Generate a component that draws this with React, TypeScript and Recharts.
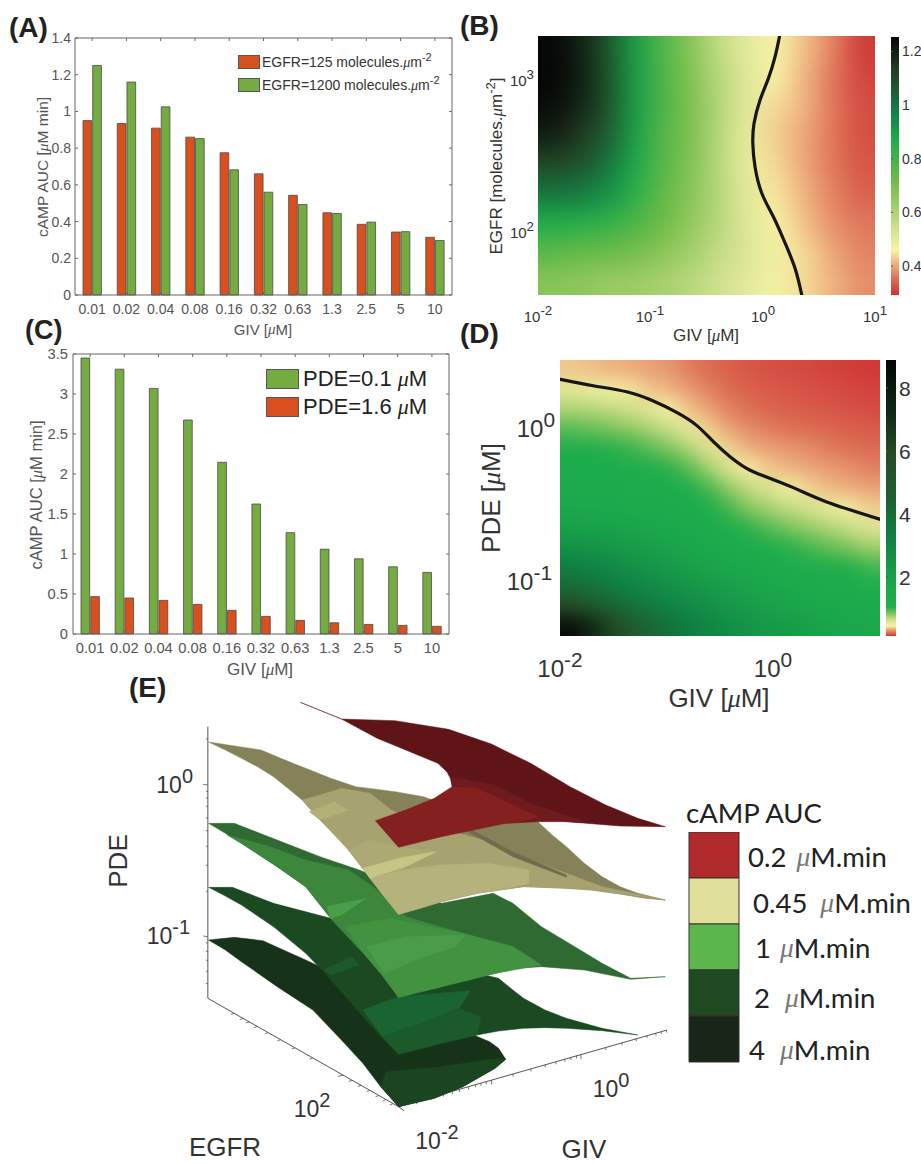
import React from 'react';
import { BarChart, Bar, XAxis, YAxis, ReferenceLine, Legend, ScatterChart, Scatter } from 'recharts';

const SANS = '"Liberation Sans", Arial, sans-serif';
const SERIF = '"Liberation Serif", serif';
const HUMANIST = 'Lato, "Open Sans", sans-serif';

// ---------- panel A ----------
const givLabels = ['0.01', '0.02', '0.04', '0.08', '0.16', '0.32', '0.63', '1.3', '2.5', '5', '10'];
const egfr125 = [0.95, 0.934, 0.909, 0.86, 0.775, 0.66, 0.543, 0.448, 0.385, 0.343, 0.314];
const egfr1200 = [1.25, 1.16, 1.025, 0.852, 0.682, 0.56, 0.493, 0.444, 0.397, 0.345, 0.297];
const aTicks = [0, 0.2, 0.4, 0.6, 0.8, 1, 1.2, 1.4];
const dataA = givLabels.map((giv, i) => ({ giv, low: egfr125[i], high: egfr1200[i] }));

// ---------- panel C ----------
const pde01 = [3.45, 3.31, 3.07, 2.675, 2.146, 1.625, 1.267, 1.06, 0.94, 0.84, 0.77];
const pde16 = [0.467, 0.45, 0.42, 0.37, 0.296, 0.22, 0.17, 0.14, 0.12, 0.108, 0.096];
const cTicks = [0, 0.5, 1, 1.5, 2, 2.5, 3, 3.5];
const dataC = givLabels.map((giv, i) => ({ giv, p01: pde01[i], p16: pde16[i] }));

// ---------- panel B ----------
const bGiv = [0.0133, 0.0237, 0.0422, 0.075, 0.133, 0.237, 0.422, 0.75, 1.33, 2.37, 4.22, 7.5];
const bEgfr = [1500, 970, 627, 405, 262, 172, 111, 72, 46];
const bGrid = [
  [1.26, 1.2, 1.07, 0.9, 0.77, 0.67, 0.56, 0.5, 0.46, 0.42, 0.37, 0.3],
  [1.26, 1.21, 1.08, 0.9, 0.78, 0.68, 0.58, 0.51, 0.46, 0.41, 0.36, 0.31],
  [1.24, 1.19, 1.08, 0.9, 0.78, 0.69, 0.59, 0.5, 0.44, 0.41, 0.36, 0.32],
  [1.2, 1.14, 1.05, 0.89, 0.76, 0.69, 0.58, 0.49, 0.43, 0.4, 0.36, 0.32],
  [1.1, 1.08, 1.0, 0.87, 0.76, 0.68, 0.58, 0.49, 0.44, 0.4, 0.36, 0.33],
  [1.0, 0.99, 0.93, 0.84, 0.74, 0.67, 0.58, 0.5, 0.45, 0.41, 0.37, 0.34],
  [0.86, 0.85, 0.83, 0.78, 0.72, 0.65, 0.58, 0.51, 0.46, 0.42, 0.38, 0.36],
  [0.76, 0.74, 0.73, 0.71, 0.67, 0.62, 0.56, 0.52, 0.47, 0.44, 0.4, 0.37],
  [0.67, 0.66, 0.64, 0.63, 0.61, 0.58, 0.54, 0.5, 0.47, 0.44, 0.41, 0.38],
];
const bContour = [
  { giv: 1.41, egfr: 1832 }, { giv: 1.29, egfr: 1358 }, { giv: 1.125, egfr: 980 }, { giv: 0.948, egfr: 708 },
  { giv: 0.838, egfr: 498 }, { giv: 0.817, egfr: 369 }, { giv: 0.855, egfr: 259 }, { giv: 0.982, egfr: 174 },
  { giv: 1.245, egfr: 122 }, { giv: 1.585, egfr: 82 }, { giv: 1.945, egfr: 56 }, { giv: 2.23, egfr: 37.6 },
];
const bStops: [number, string][] = [
  [0.29, '#cc3333'], [0.34, '#d9604c'], [0.4, '#eda678'], [0.46, '#f8f4a6'], [0.52, '#dbe596'], [0.62, '#a3cf6a'],
  [0.72, '#6fbb45'], [0.86, '#1fae4b'], [0.97, '#128247'], [1.06, '#1d5a30'], [1.13, '#253f22'], [1.2, '#111f12'], [1.255, '#060606'],
];

// ---------- panel D ----------
const dGiv = [0.0124, 0.0191, 0.0294, 0.0453, 0.0698, 0.107, 0.166, 0.255, 0.393, 0.604, 0.931, 1.43, 2.21, 3.4, 5.24, 8.07];
const dPde = [2.2, 1.64, 1.22, 0.914, 0.682, 0.51, 0.379, 0.283, 0.211, 0.158, 0.118, 0.088, 0.0653, 0.0489];
const dGrid = [
  [0.38, 0.37, 0.35, 0.34, 0.32, 0.3, 0.25, 0.22, 0.2, 0.18, 0.17, 0.16, 0.15, 0.14, 0.13, 0.12],
  [0.55, 0.51, 0.47, 0.43, 0.38, 0.35, 0.31, 0.26, 0.22, 0.2, 0.19, 0.18, 0.17, 0.16, 0.15, 0.14],
  [0.73, 0.71, 0.68, 0.63, 0.55, 0.45, 0.37, 0.32, 0.26, 0.23, 0.21, 0.2, 0.19, 0.18, 0.17, 0.16],
  [0.93, 0.9, 0.86, 0.81, 0.74, 0.65, 0.52, 0.39, 0.32, 0.28, 0.25, 0.23, 0.22, 0.21, 0.2, 0.19],
  [1.12, 1.08, 1.04, 1.0, 0.93, 0.84, 0.72, 0.56, 0.4, 0.34, 0.32, 0.3, 0.28, 0.25, 0.23, 0.22],
  [1.3, 1.28, 1.25, 1.2, 1.12, 1.03, 0.92, 0.75, 0.57, 0.44, 0.38, 0.35, 0.33, 0.31, 0.29, 0.26],
  [1.45, 1.42, 1.4, 1.36, 1.3, 1.22, 1.12, 0.96, 0.8, 0.66, 0.58, 0.47, 0.4, 0.36, 0.34, 0.32],
  [1.6, 1.58, 1.55, 1.5, 1.45, 1.38, 1.3, 1.14, 0.97, 0.82, 0.74, 0.67, 0.6, 0.52, 0.44, 0.39],
  [2.0, 1.95, 1.9, 1.8, 1.7, 1.6, 1.5, 1.35, 1.15, 1.02, 0.93, 0.85, 0.78, 0.72, 0.65, 0.57],
  [2.6, 2.5, 2.35, 2.2, 2.05, 1.9, 1.75, 1.6, 1.4, 1.25, 1.12, 1.03, 0.97, 0.9, 0.84, 0.76],
  [3.3, 3.1, 2.9, 2.65, 2.45, 2.25, 2.05, 1.85, 1.7, 1.55, 1.4, 1.3, 1.2, 1.12, 1.05, 0.98],
  [4.2, 3.9, 3.5, 3.15, 2.9, 2.65, 2.45, 2.2, 2.0, 1.85, 1.7, 1.55, 1.45, 1.35, 1.25, 1.18],
  [6.0, 5.2, 4.5, 3.9, 3.5, 3.2, 2.85, 2.6, 2.35, 2.15, 2.0, 1.85, 1.7, 1.6, 1.5, 1.42],
  [8.5, 7.5, 6.3, 5.2, 4.4, 3.9, 3.4, 3.05, 2.75, 2.5, 2.3, 2.15, 2.0, 1.85, 1.75, 1.65],
];
const dContour = [
  { giv: 0.0101, pde: 1.914 }, { giv: 0.0205, pde: 1.74 }, { giv: 0.0422, pde: 1.59 }, { giv: 0.075, pde: 1.387 },
  { giv: 0.124, pde: 1.172 }, { giv: 0.191, pde: 0.966 }, { giv: 0.274, pde: 0.758 }, { giv: 0.393, pde: 0.607 },
  { giv: 0.562, pde: 0.51 }, { giv: 0.805, pde: 0.457 }, { giv: 1.54, pde: 0.383 }, { giv: 3.16, pde: 0.31 }, { giv: 9.9, pde: 0.24 },
];
const dStops: [number, string][] = [
  [0.11, '#cf3434'], [0.2, '#d9604c'], [0.33, '#eaa678'], [0.45, '#f8f4a6'], [0.62, '#d3e28e'], [0.8, '#96c95f'],
  [1.05, '#1fae4b'], [1.7, '#1aa84b'], [3.3, '#0f7f44'], [4.7, '#1e5c2e'], [5.9, '#274d26'], [7.2, '#0f2a14'], [8.9, '#050505'],
];

// ---------- panel E: projected facets, in panel units ----------
type P = [number, number];
type Facet = { fill: string; pts: P[] };
const surface4: Facet[] = [
  { fill: '#16331a', pts: [[248,810],[320,802],[400,812],[520,870],[700,960],[990,1095],[1035,1115],[1060,1135],[1080,1168],[1050,1195],[960,1250],[880,1285],[780,1310],[730,1250],[680,1180],[620,1110],[540,1020],[440,950],[340,875],[295,840]] },
  { fill: '#1b4520', pts: [[745,1205],[900,1190],[1060,1165],[1080,1168],[1050,1195],[960,1250],[880,1285],[780,1310],[730,1250]] },
];
const surface2: Facet[] = [
  { fill: '#1b4a22', pts: [[248,652],[315,652],[430,700],[590,745],[800,860],[1060,925],[1100,960],[1130,985],[1190,1020],[1250,1045],[1350,1075],[1450,1095],[1350,1082],[1250,1075],[1190,1073],[1130,1075],[1060,1083],[1000,1095],[900,1120],[780,1153],[730,1100],[680,1040],[620,965],[570,905],[520,850],[430,770],[340,705],[295,678]] },
  { fill: '#1a6434', pts: [[680,1020],[780,980],[980,962],[950,1015],[870,1050],[735,1100]] },
  { fill: '#1b5a2a', pts: [[735,1100],[870,1050],[950,1015],[1010,1040],[1000,1095],[900,1120],[780,1153]] },
  { fill: '#1d5a2b', pts: [[570,900],[650,860],[670,885],[640,895],[590,915]] },
];
const surface1: Facet[] = [
  { fill: '#2f6a33', pts: [[248,460],[320,460],[440,510],[560,560],[670,600],[900,700],[1045,670],[1100,700],[1180,770],[1250,815],[1350,880],[1430,925],[1527,920],[1430,928],[1300,900],[1180,890],[1110,895],[1050,910],[900,950],[780,982],[730,910],[690,860],[620,780],[590,745],[520,650],[440,590],[340,520],[295,490]] },
  { fill: '#3d873d', pts: [[300,495],[420,530],[520,570],[640,600],[720,660],[800,740],[960,790],[1100,830],[1180,885],[1110,895],[1050,910],[900,950],[780,982],[730,910],[690,860],[620,780],[590,745],[520,650],[440,590],[340,520]] },
  { fill: '#42923f', pts: [[630,770],[760,745],[960,790],[1100,830],[1180,885],[1050,910],[900,950],[780,982],[730,910],[690,860]] },
  { fill: '#4a9c48', pts: [[690,830],[800,800],[965,795],[940,830],[850,860],[740,910]] },
  { fill: '#47a046', pts: [[580,710],[690,685],[620,735],[590,745]] },
];
const surfaceK: Facet[] = [
  { fill: '#85825a', pts: [[248,216],[395,240],[450,265],[520,295],[590,325],[660,350],[770,365],[850,380],[900,400],[1170,455],[1210,495],[1250,530],[1300,580],[1350,620],[1400,650],[1450,670],[1527,690],[1470,685],[1400,672],[1320,660],[1250,655],[1190,652],[1130,650],[1060,660],[1000,670],[950,682],[900,695],[840,715],[780,733],[740,680],[700,625],[680,595],[640,540],[600,490],[560,450],[510,390],[470,355],[430,320],[385,290],[340,265],[295,240]] },
  { fill: '#a6a371', pts: [[510,390],[560,375],[620,355],[700,370],[760,420],[850,470],[950,490],[1050,520],[1150,570],[1250,610],[1350,650],[1527,690],[1400,672],[1320,660],[1250,655],[1130,650],[1000,670],[900,695],[780,733],[700,625],[640,540],[560,450]] },
  { fill: '#b5b27c', pts: [[700,625],[790,600],[900,585],[1030,580],[1145,600],[1145,640],[1060,660],[1000,670],[900,695],[840,715],[780,733],[740,680]] },
  { fill: '#ada974', pts: [[640,540],[700,510],[780,532],[885,545],[680,595]] },
  { fill: '#c7c585', pts: [[680,595],[780,565],[885,545],[800,590],[700,625]] },
  { fill: '#b3b077', pts: [[530,425],[600,395],[640,420],[560,450]] },
  { fill: '#6f6d4c', pts: [[950,460],[1100,545],[1250,615],[1250,622],[1100,560],[950,470]] },
];
const surfaceR: Facet[] = [
  { fill: '#5f1418', pts: [[505,97],[620,147],[770,152],[920,178],[1040,222],[1150,280],[1260,350],[1360,405],[1450,445],[1527,470],[1400,468],[1250,455],[1170,430],[1050,380],[930,350],[925,325],[915,305],[890,280],[800,240],[720,205],[620,147]] },
  { fill: '#6f1a1e', pts: [[930,320],[1050,345],[1150,400],[1310,458],[1250,455],[1170,455],[1080,460],[930,350]] },
  { fill: '#84201f', pts: [[930,350],[880,385],[800,420],[715,452],[780,532],[900,500],[1000,478],[1080,460],[1120,455],[1170,440],[1090,400],[1000,355]] },
];
const allFacets = [...surface4, ...surface2, ...surface1, ...surfaceK, ...surfaceR];
const verticalAxis = [{ x: 246, y: 170 }, { x: 246, y: 985 }, { x: 780, y: 1310 }, { x: 1532, y: 1080 }];
const cornerTick = [{ x: 780, y: 1310 }, { x: 795, y: 1322 }];
const pdeTicks = [[208,-6],[345,-14],[365,-6],[385,-6],[410,-6],[445,-6],[483,-6],[530,-6],[587,-6],[665,-6],[800,-14],[820,-6],[845,-6],[872,-6],[905,-6],[942,-6]].map(([y, dx]) => ({ x: 246, y, dx, dy: -2 }));
const egfrTickX = [320,345,362,385,415,450,490,540,625,650,675,700,725,745,765];
const egfrTicks = egfrTickX.map((x) => ({ x, y: 985 + 0.609 * (x - 246), dx: x === 625 ? -16 : -10, dy: 3 }));
const givTickX = [830,870,905,930,950,975,995,1010,1025,1040,1100,1150,1190,1220,1245,1262,1278,1290,1360,1405,1445,1475,1500,1515,1530];
const givTicks = givTickX.map((x) => ({ x, y: 1310 - 0.307 * (x - 780), dx: 1, dy: x === 1040 || x === 1290 ? 14 : 8 }));
const legendLevels = ['0.2', '0.45', '1', '2', '4'];
const legendColors = ['#b02a2c', '#e0e09a', '#5bb64c', '#1f4a20', '#18261a'];
const legendData = [{ name: 'cAMP AUC', s0: 1, s1: 1, s2: 1, s3: 1, s4: 1 }];

// ---------- helpers ----------
const mix = (a: string, b: string, t: number) => {
  const p = (h: string, i: number) => parseInt(h.slice(i, i + 2), 16);
  const c = [1, 3, 5].map((i) => Math.round(p(a, i) + (p(b, i) - p(a, i)) * t));
  return `rgb(${c[0]},${c[1]},${c[2]})`;
};
const colorOf = (stops: [number, string][], v: number) => {
  if (v <= stops[0][0]) return stops[0][1];
  for (let i = 1; i < stops.length; i++) {
    if (v <= stops[i][0]) return mix(stops[i - 1][1], stops[i][1], (v - stops[i - 1][0]) / (stops[i][0] - stops[i - 1][0]));
  }
  return stops[stops.length - 1][1];
};
const Mu = ({ size }: { size?: number }) => <tspan fontFamily={SERIF} fontStyle="italic" fontSize={size}>μ</tspan>;

type TP = { x: number; y: number; size: number; color?: string; anchor?: string; rotate?: number; weight?: string | number; family?: string; children?: React.ReactNode };
const T = ({ x, y, size, color = '#333', anchor = 'start', rotate, weight, family = SANS, children }: TP) => (
  <text x={x} y={y} fontSize={size} fill={color} textAnchor={anchor as any} dominantBaseline="central" fontWeight={weight} fontFamily={family}
    transform={rotate ? `rotate(${rotate} ${x} ${y})` : undefined}>{children}</text>
);
const Pow = ({ exp, size }: { exp: string; size: number }) => (
  <>10<tspan dy={-0.42 * size} fontSize={size * 0.95}>{exp}</tspan></>
);

const pos = (l: number, t: number): React.CSSProperties => ({ position: 'absolute', left: l, top: t });

// Bars panels
const BottomTick = (top: number, bottom: number, labelY: number, size: number, color: string) => (p: any) => (
  <g>
    <line x1={p.x} x2={p.x} y1={bottom} y2={bottom - 3} stroke="#666" />
    <line x1={p.x} x2={p.x} y1={top} y2={top + 3} stroke="#666" />
    <text x={p.x} y={labelY} textAnchor="middle" dominantBaseline="central" fontSize={size} fontFamily={SANS} fill={color}>{p.payload.value}</text>
  </g>
);
const LeftTick = (left: number, right: number, labelX: number, size: number, color: string) => (p: any) => (
  <g>
    <line x1={left} x2={left + 3} y1={p.y} y2={p.y} stroke="#666" />
    <line x1={right} x2={right - 3} y1={p.y} y2={p.y} stroke="#666" />
    <text x={labelX} y={p.y} textAnchor="end" dominantBaseline="central" fontSize={size} fontFamily={SANS} fill={color}>{p.payload.value}</text>
  </g>
);

const swatch = (w: number, h: number, fill: string): React.CSSProperties => ({ width: w, height: h, background: fill, border: '1px solid #555', boxSizing: 'border-box', flex: 'none' });
const LegendA = () => (
  <div style={{ fontFamily: SANS, fontSize: 14, color: '#333', lineHeight: '16px', whiteSpace: 'nowrap' }}>
    {[['#d9501e', '125', 55], ['#74ac42', '1200', 78]].map(([c, n, t]) => (
      <div key={n as string} style={{ position: 'absolute', left: 0, top: (t as number) - 55, display: 'flex', alignItems: 'center', height: 14 }}>
        <div style={swatch(22, 14, c as string)} />
        <span style={{ marginLeft: 2 }}>EGFR={n} molecules.<i style={{ fontFamily: SERIF }}>μ</i>m<sup style={{ fontSize: 11, lineHeight: 0 }}>-2</sup></span>
      </div>
    ))}
  </div>
);
const LegendC = () => (
  <div style={{ fontFamily: SANS, fontSize: 22, color: '#222', whiteSpace: 'nowrap' }}>
    {[['#74ac42', '0.1', 0], ['#d9501e', '1.6', 28]].map(([c, n, t]) => (
      <div key={n as string} style={{ position: 'absolute', left: 0, top: t as number, display: 'flex', alignItems: 'center', height: 20 }}>
        <div style={swatch(33, 20, c as string)} />
        <span style={{ marginLeft: 4 }}>PDE={n} <i style={{ fontFamily: SERIF }}>μ</i>M</span>
      </div>
    ))}
  </div>
);

const PanelBars = ({ L, T: tp, W, H, frame, data, k1, k2, c1, c2, top, ticks, size, labelX, labelY, legend, legendPos }: any) => (
  <div style={pos(L, tp)}>
    <BarChart width={W} height={H} data={data} barSize={8.7} barGap={1} margin={{ left: frame.l - L - 1, top: frame.t - tp, right: L + W - frame.r - 1, bottom: tp + H - frame.b - 1 }}>
      <XAxis dataKey="giv" height={1} tickSize={0} tickMargin={0} interval={0} axisLine={{ stroke: '#666' }} tickLine={false}
        tick={BottomTick(frame.t - tp, frame.b - tp, labelY - tp, size, '#555')} />
      <YAxis width={1} tickSize={0} tickMargin={0} domain={[0, top]} ticks={ticks} interval={0} axisLine={{ stroke: '#666' }} tickLine={false}
        tick={LeftTick(frame.l - L, frame.r - L, labelX - L, size, '#555')} />
      <YAxis yAxisId="right" orientation="right" width={1} domain={[0, top]} tick={false} tickLine={false} axisLine={{ stroke: '#666' }} />
      <ReferenceLine y={top} stroke="#666" />
      <Bar dataKey={k1} fill={c1} stroke="#4a4a4a" strokeWidth={0.8} isAnimationActive={false} />
      <Bar dataKey={k2} fill={c2} stroke="#4a4a4a" strokeWidth={0.8} isAnimationActive={false} />
      <Legend layout="vertical" align="center" verticalAlign="middle" content={legend} wrapperStyle={{ position: 'absolute', left: legendPos[0] - L, top: legendPos[1] - tp, width: 200, height: 40 }} />
    </BarChart>
  </div>
);

const flatten = (rows: number[], cols: number[], grid: number[][], rk: string) =>
  rows.flatMap((r, ri) => cols.map((c, ci) => ({ giv: c, [rk]: r, value: grid[ri][ci], ri, ci })));

const Heat = ({ L, T: tp, W, H, frame, xDomain, yDomain, rows, cols, grid, rowKey, stops, contour, blur }: any) => {
  const cw = (frame.r - frame.l) / cols.length;
  const ch = (frame.b - frame.t) / rows.length;
  const cell = (p: any) => {
    const { cx, cy, payload: d } = p;
    const x0 = cx - cw / 2 - 0.5 - (d.ci === 0 ? 40 : 0);
    const x1 = cx + cw / 2 + 0.5 + (d.ci === cols.length - 1 ? 40 : 0);
    const y0 = cy - ch / 2 - 0.5 - (d.ri === 0 ? 40 : 0);
    const y1 = cy + ch / 2 + 0.5 + (d.ri === rows.length - 1 ? 40 : 0);
    return <rect x={x0} y={y0} width={x1 - x0} height={y1 - y0} fill={colorOf(stops, d.value)} />;
  };
  const cls = `heat${blur}`;
  return (
    <div style={pos(L, tp)}>
      <style>{`.${cls}{filter:blur(${blur}px)}`}</style>
      <ScatterChart width={W} height={H} margin={{ left: frame.l - L, top: frame.t - tp, right: L + W - frame.r, bottom: tp + H - frame.b }}>
        <XAxis type="number" dataKey="giv" scale="log" domain={xDomain} allowDataOverflow hide height={0} />
        <YAxis type="number" dataKey={rowKey} scale="log" domain={yDomain} allowDataOverflow hide width={0} />
        <Scatter className={cls} data={flatten(rows, cols, grid, rowKey)} shape={cell} isAnimationActive={false} />
        <Scatter data={contour} line={{ stroke: '#161616', strokeWidth: 3.2, strokeLinecap: 'round' }} lineJointType="natural" fill="#161616" shape={() => <g />} isAnimationActive={false} />
      </ScatterChart>
    </div>
  );
};

const ColorBar = ({ L, T: tp, W, H, frame, low, high, stops, id, ticks, size }: any) => (
  <div style={pos(L, tp)}>
    <BarChart width={W} height={H} data={[{ name: 'scale', span: [low, high] }]} barCategoryGap={0} margin={{ left: frame.l - L, top: frame.t - tp, right: L + W - frame.r - 1, bottom: tp + H - frame.b }}>
      <defs>
        <linearGradient id={id} x1="0" y1="1" x2="0" y2="0">
          {stops.map(([v, c]: [number, string]) => <stop key={v} offset={(Math.max(v, low) - low) / (high - low)} stopColor={c} />)}
        </linearGradient>
      </defs>
      <XAxis dataKey="name" hide height={0} />
      <YAxis orientation="right" width={1} domain={[low, high]} ticks={ticks} interval={0} axisLine={false} tickLine={false} tickSize={0} tickMargin={0}
        tick={(p: any) => (
          <g>
            <line x1={frame.l - L} x2={frame.l - L + 2} y1={p.y} y2={p.y} stroke="#555" />
            <text x={frame.r - L + 3} y={p.y} dominantBaseline="central" fontSize={size} fontFamily={SANS} fill="#333">{p.payload.value}</text>
          </g>
        )} />
      <Bar dataKey="span" fill={`url(#${id})`} isAnimationActive={false} />
    </BarChart>
  </div>
);

const PanelE = () => (
  <div style={pos(120, 670)}>
    <ScatterChart width={560} height={494} margin={{ left: 0, top: 0, right: 0, bottom: 0 }}>
      <XAxis type="number" dataKey="x" domain={[0, 1568]} hide height={0} />
      <YAxis type="number" dataKey="y" domain={[0, 1482]} reversed hide width={0} />
      <Scatter data={verticalAxis} line={{ stroke: '#555', strokeWidth: 1 }} shape={() => <g />} isAnimationActive={false} />
      <Scatter data={cornerTick} line={{ stroke: '#555', strokeWidth: 1 }} shape={() => <g />} isAnimationActive={false} />
      {[pdeTicks, egfrTicks, givTicks].map((t, i) => (
        <Scatter key={i} data={t} isAnimationActive={false}
          shape={(p: any) => <line x1={p.cx} y1={p.cy} x2={p.cx + p.payload.dx / 3} y2={p.cy + p.payload.dy / 3} stroke="#555" strokeWidth={0.8} />} />
      ))}
      {allFacets.map((f, i) => (
        <Scatter key={`f${i}`} data={f.pts.map(([x, y]) => ({ x, y }))} isAnimationActive={false} shape={() => <g />}
          line={(lp: any) => <polygon points={lp.points.map((q: any) => `${q.x},${q.y}`).join(' ')} fill={f.fill} stroke={f.fill} strokeWidth={0.5} strokeLinejoin="round" />} />
      ))}
    </ScatterChart>
  </div>
);

const LegendE = () => (
  <div style={pos(689 - 1, 832)}>
    <BarChart width={52} height={231} data={legendData} barCategoryGap={0} margin={{ left: 1, right: 1, top: 0, bottom: 1 }}>
      <XAxis dataKey="name" hide height={0} />
      <YAxis hide width={0} domain={[0, 5]} reversed />
      {legendColors.map((c, i) => (
        <Bar key={c} dataKey={`s${i}`} stackId="l" fill={c} stroke="#333" strokeWidth={1} isAnimationActive={false} />
      ))}
    </BarChart>
  </div>
);

export default function App() {
  const muGrey = '#777';
  return (
    <div style={{ position: 'absolute', left: 0, top: 0, width: 921, height: 1164, background: '#fff', overflow: 'hidden' }}>
      <PanelBars L={0} T={0} W={460} H={340} frame={{ l: 75, r: 452, t: 38, b: 295 }} data={dataA} k1="low" k2="high" c1="#d9501e" c2="#74ac42"
        top={1.4} ticks={aTicks} size={14} labelX={71} labelY={309} legend={LegendA} legendPos={[238, 55]} />
      <PanelBars L={0} T={320} W={460} H={370} frame={{ l: 73, r: 449, t: 354, b: 634 }} data={dataC} k1="p01" k2="p16" c1="#74ac42" c2="#d9501e"
        top={3.5} ticks={cTicks} size={14.7} labelX={68} labelY={648} legend={LegendC} legendPos={[266, 369]} />

      <Heat L={460} T={0} W={461} H={340} frame={{ l: 538, r: 875, t: 36, b: 295 }} xDomain={[0.01, 10]} yDomain={[37.6, 1854]}
        rows={bEgfr} cols={bGiv} grid={bGrid} rowKey="egfr" stops={bStops} contour={bContour} blur={13} />
      <ColorBar L={860} T={0} W={61} H={340} frame={{ l: 891, r: 899, t: 37, b: 295 }} low={0.292} high={1.254} stops={bStops} id="gradB" ticks={[0.4, 0.6, 0.8, 1, 1.2]} size={14} />

      <Heat L={460} T={320} W={461} H={400} frame={{ l: 560, r: 880, t: 360, b: 636 }} xDomain={[0.01, 10]} yDomain={[0.0423, 2.55]}
        rows={dPde} cols={dGiv} grid={dGrid} rowKey="pde" stops={dStops} contour={dContour} blur={9} />
      <ColorBar L={860} T={320} W={61} H={400} frame={{ l: 886, r: 896, t: 360, b: 636 }} low={0.127} high={8.89} stops={dStops} id="gradD" ticks={[2, 4, 6, 8]} size={21} />

      <PanelE />
      <LegendE />

      <svg width={921} height={1164} style={{ ...pos(0, 0), pointerEvents: 'none' }}>
        <g fontWeight="bold">
          <T x={9} y={27} size={28} color="#222" weight="bold">(A)</T>
          <T x={460} y={25} size={28} color="#222" weight="bold">(B)</T>
          <T x={25} y={330} size={27} color="#222" weight="bold">(C)</T>
          <T x={460} y={333} size={28} color="#222" weight="bold">(D)</T>
          <T x={129} y={687} size={28} color="#222" weight="bold">(E)</T>
        </g>

        <T x={263} y={329} size={15} anchor="middle" color="#555">GIV [<Mu />M]</T>
        <T x={42} y={167} size={15.5} anchor="middle" rotate={-90} color="#555">cAMP AUC [<Mu />M min]</T>
        <T x={260} y={669} size={17} anchor="middle" color="#555">GIV [<Mu />M]</T>
        <T x={36} y={495} size={16.5} anchor="middle" rotate={-90} color="#555">cAMP AUC [<Mu />M min]</T>

        <T x={706} y={335} size={17} anchor="middle">GIV [<Mu />M]</T>
        <T x={496} y={166} size={17} anchor="middle" rotate={-90}>EGFR [molecules.<Mu />m<tspan dy={-6} fontSize={13}>-2</tspan><tspan dy={6}>]</tspan></T>
        <T x={538} y={316} size={15} anchor="middle"><Pow exp="-2" size={14} /></T>
        <T x={650} y={316} size={15} anchor="middle"><Pow exp="-1" size={14} /></T>
        <T x={763} y={316} size={15} anchor="middle"><Pow exp="0" size={14} /></T>
        <T x={875} y={316} size={15} anchor="middle"><Pow exp="1" size={14} /></T>
        <T x={534} y={80} size={15} anchor="end"><Pow exp="3" size={14} /></T>
        <T x={534} y={232} size={15} anchor="end"><Pow exp="2" size={14} /></T>

        <T x={719} y={698} size={26} anchor="middle">GIV [<Mu />M]</T>
        <T x={491} y={498} size={26} anchor="middle" rotate={-90}>PDE [<Mu />M]</T>
        <T x={560} y={668} size={24} anchor="middle"><Pow exp="-2" size={22} /></T>
        <T x={773} y={668} size={24} anchor="middle"><Pow exp="0" size={22} /></T>
        <T x={555} y={428} size={24} anchor="end"><Pow exp="0" size={22} /></T>
        <T x={552} y={581} size={24} anchor="end"><Pow exp="-1" size={22} /></T>

        <T x={118} y={861} size={26} anchor="middle" rotate={-90}>PDE</T>
        <T x={193} y={785} size={23} anchor="end"><Pow exp="0" size={21} /></T>
        <T x={190} y={936} size={23} anchor="end"><Pow exp="-1" size={21} /></T>
        <T x={312} y={1109} size={23} anchor="middle"><Pow exp="2" size={21} /></T>
        <T x={437} y={1141} size={23} anchor="middle"><Pow exp="-2" size={21} /></T>
        <T x={611} y={1089} size={23} anchor="middle"><Pow exp="0" size={21} /></T>
        <T x={225} y={1147} size={26} anchor="middle">EGFR</T>
        <T x={584} y={1149} size={26} anchor="middle">GIV</T>

        <T x={686} y={812} size={27.5} color="#222" family={HUMANIST}>cAMP AUC</T>
        {legendLevels.map((lv, i) => {
          const xs = [748, 753, 755, 754, 749];
          const ys = [856, 902, 947, 997, 1049];
          const gaps = [10, 13, 9, 15, 15];
          return (
            <T key={lv} x={xs[i]} y={ys[i]} size={27.5} color="#222" family={HUMANIST}>
              {lv}<tspan dx={gaps[i]} fontFamily={SERIF} fontStyle="italic" fill={muGrey}>μ</tspan>M.min
            </T>
          );
        })}
      </svg>
    </div>
  );
}
